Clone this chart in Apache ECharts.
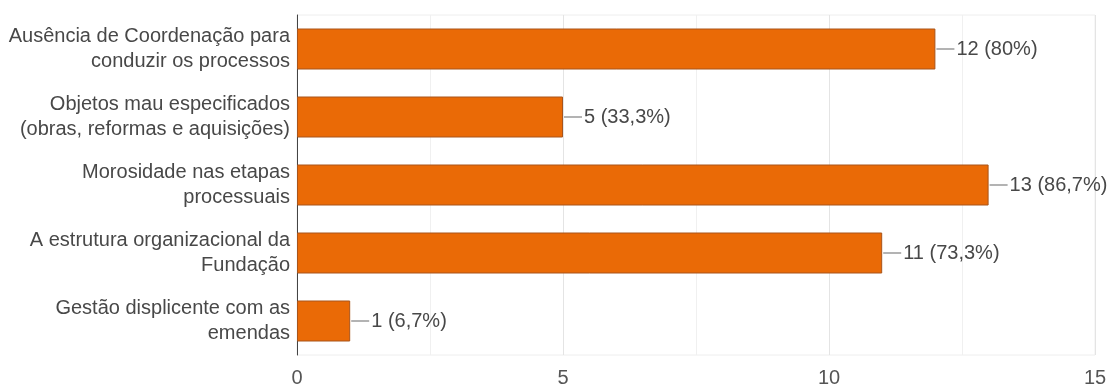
<!DOCTYPE html>
<html>
<head>
<meta charset="utf-8">
<script src="https://cdn.jsdelivr.net/npm/echarts@6/dist/echarts.min.js"></script>
<style>
  html, body { margin: 0; padding: 0; background: #fff; }
  #chart { width: 1111px; height: 388px; }
</style>
</head>
<body>
<div id="chart"></div>
<script>
// Answer categories, counts and their share of the 15 responses
const categories = [
  'Ausência de Coordenação para\nconduzir os processos',
  'Objetos mau especificados\n(obras, reformas e aquisições)',
  'Morosidade nas etapas\nprocessuais',
  'A estrutura organizacional da\nFundação',
  'Gestão displicente com as\nemendas'
];
const counts = [12, 5, 13, 11, 1];
const percents = ['80%', '33,3%', '86,7%', '73,3%', '6,7%'];
const xTicks = [0, 5, 10, 15];

const FONT = '"Liberation Sans", Arial, sans-serif';

const chart = echarts.init(document.getElementById('chart'), null, { renderer: 'canvas' });

chart.setOption({
  animation: false,
  backgroundColor: '#ffffff',
  grid: {
    left: 297, right: 16, top: 15, bottom: 31,
    show: true, borderColor: '#eeeeee', borderWidth: 1
  },
  xAxis: {
    type: 'value',
    min: xTicks[0],
    max: xTicks[xTicks.length - 1],
    interval: xTicks[1] - xTicks[0],
    axisLine: { show: false },
    axisTick: { show: false },
    axisLabel: { color: '#555', fontSize: 20, fontFamily: FONT, margin: 13 },
    splitLine: { show: true, lineStyle: { color: '#e4e4e4', width: 1 } },
    minorTick: { show: false, splitNumber: 2 },
    minorSplitLine: { show: true, lineStyle: { color: '#f0f0f0', width: 1 } }
  },
  yAxis: {
    type: 'category',
    data: categories,
    inverse: true,
    axisLine: { show: true, lineStyle: { color: '#444', width: 1 } },
    axisTick: { show: false },
    axisLabel: {
      color: '#484848', fontSize: 20, fontFamily: FONT, lineHeight: 25,
      align: 'right', margin: 7
    }
  },
  series: [{
    type: 'bar',
    data: counts,
    barWidth: 41,
    itemStyle: { color: '#ea6a06', borderColor: '#a9541a', borderWidth: 1 },
    label: {
      show: true,
      position: 'right',
      distance: 1,
      formatter: p => '{l|}{t|' + p.value + ' (' + percents[p.dataIndex] + ')}',
      rich: {
        l: { width: 18, height: 1, backgroundColor: '#666' },
        t: { color: '#484848', fontSize: 20, fontFamily: FONT, padding: [0, 0, 0, 2] }
      }
    }
  }]
});
</script>
</body>
</html>
